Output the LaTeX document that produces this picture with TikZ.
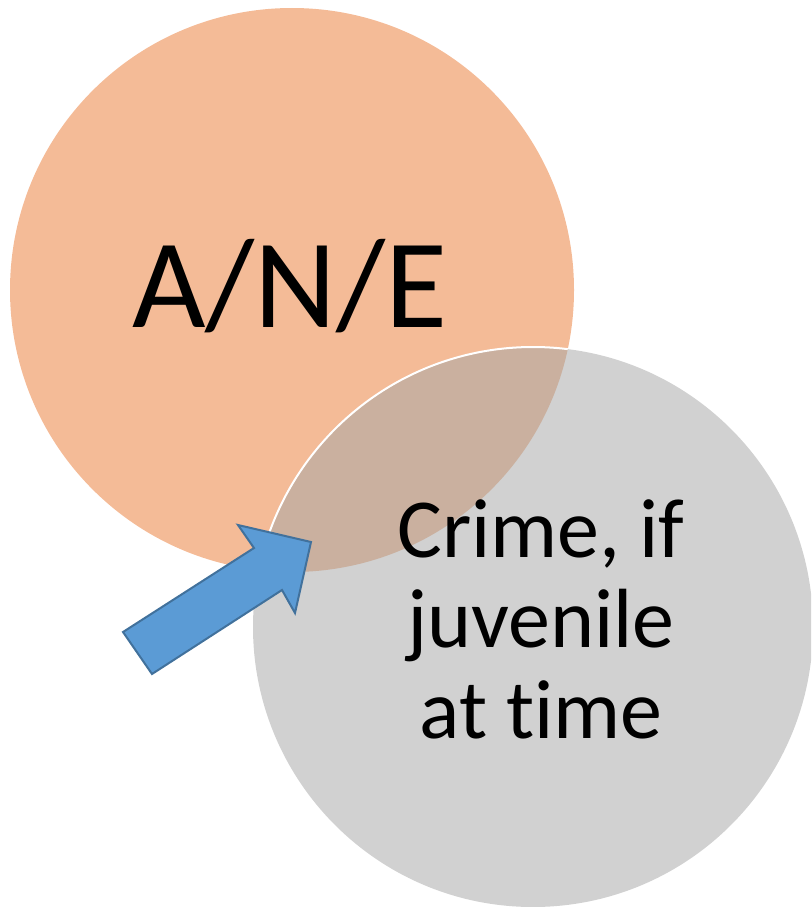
\documentclass[tikz,border=0pt]{standalone}
\usepackage{fontspec}
\setmainfont{Carlito}[RawFeature={-liga,-clig,-dlig}]
\definecolor{orangefill}{HTML}{F4BB97}
\definecolor{grayfill}{HTML}{D1D1D1}
\definecolor{overlapfill}{HTML}{CAB09F}
\definecolor{arrowfill}{HTML}{5B9BD5}
\definecolor{arrowline}{HTML}{41719C}
\tikzset{
  blob/.style={circle, inner sep=0pt, minimum size=#1},
  label/.style={inner sep=0pt, text=black},
}
\begin{document}
\begin{tikzpicture}[x=1pt,y=-1pt]
\useasboundingbox (0,0) rectangle (811,907);
\clip (0,0) rectangle (811,907);
% circles
\node[blob=564pt, fill=orangefill] (ane) at (292,290) {};
\node[blob=560pt, fill=grayfill] (crime) at (533,627) {};
\begin{scope}
  \clip (292,290) circle (282);
  \fill[overlapfill] (533,627) circle (280);
  \draw[white, line width=2pt] (533,627) circle (280);
\end{scope}
% texts
\node[label, anchor=base, font=\fontsize{127}{127}\selectfont] (t1) at (290,327) {A/N/E};
\node[label, anchor=base, align=center, font=\fontsize{84}{90.5}\selectfont] (t2) at (541,738) {Crime, if\\juvenile\\at time};
% block arrow
\draw[fill=arrowfill, draw=arrowline, line width=2pt, line join=miter]
  (123,632) -- (254,548) -- (238,525) -- (311,542) -- (295,613) -- (282,590) -- (152,674) -- cycle;
\end{tikzpicture}
\end{document}
